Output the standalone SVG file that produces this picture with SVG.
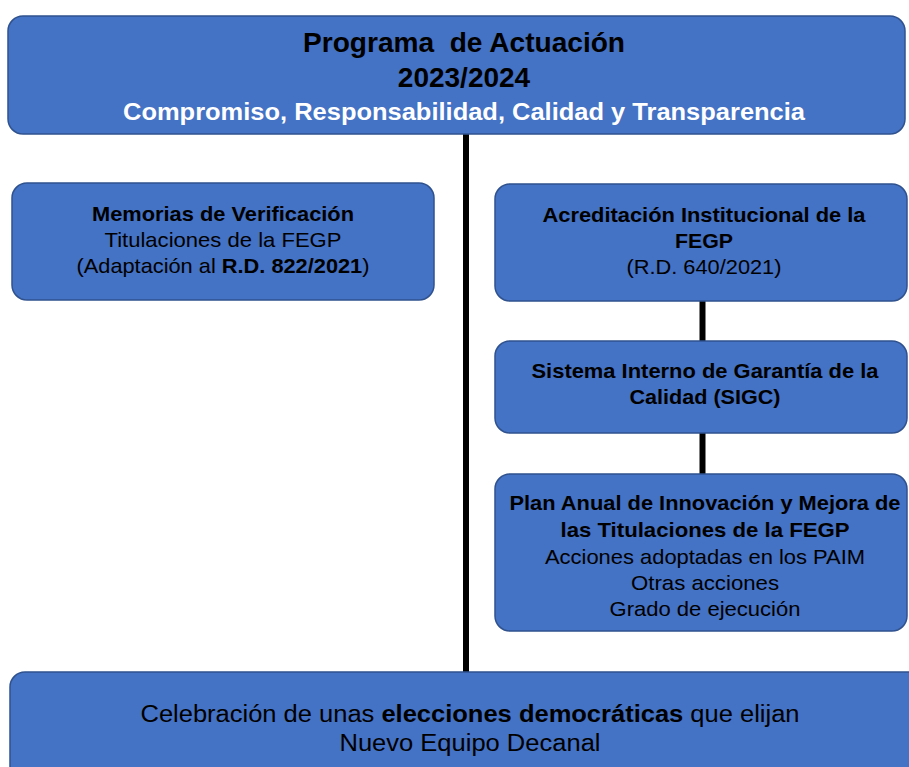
<svg xmlns="http://www.w3.org/2000/svg" width="909" height="767" viewBox="0 0 909 767">
<style>
.box{fill:#4472C4;stroke:#2F528F;stroke-width:1.5}
.t{font-family:"Liberation Sans",Arial,sans-serif;fill:#000;text-anchor:middle}
.b{font-weight:bold}
.w{fill:#fff}
.link{stroke:#000;stroke-width:6;fill:none}
</style>
<rect width="909" height="767" fill="#fff"/>
<g id="connectors">
<line class="link" x1="466" y1="134" x2="466" y2="672"/>
<line class="link" x1="702.5" y1="301" x2="702.5" y2="341"/>
<line class="link" x1="702.5" y1="433" x2="702.5" y2="474"/>
</g>
<g id="programa">
<rect class="box" x="8" y="16" width="897" height="118" rx="15"/>
<text class="t b" x="464" y="52" font-size="28" textLength="322" lengthAdjust="spacingAndGlyphs">Programa&#160; de Actuación</text>
<text class="t b" x="464" y="87" font-size="28">2023/2024</text>
<text class="t b w" x="464" y="120" font-size="24" textLength="682" lengthAdjust="spacingAndGlyphs">Compromiso, Responsabilidad, Calidad y Transparencia</text>
</g>
<g id="memorias">
<rect class="box" x="12" y="183" width="422" height="117" rx="15"/>
<text class="t b" x="223" y="221" font-size="20.5" textLength="262" lengthAdjust="spacingAndGlyphs">Memorias de Verificación</text>
<text class="t" x="223" y="247" font-size="21" textLength="237" lengthAdjust="spacingAndGlyphs">Titulaciones de la FEGP</text>
<text class="t" x="223" y="273" font-size="21" textLength="293" lengthAdjust="spacingAndGlyphs">(Adaptación al <tspan class="b">R.D. 822/2021</tspan>)</text>
</g>
<g id="acreditacion">
<rect class="box" x="495" y="184" width="412" height="117" rx="15"/>
<text class="t b" x="704" y="222" font-size="20.5" textLength="323" lengthAdjust="spacingAndGlyphs">Acreditación Institucional de la</text>
<text class="t b" x="704" y="248" font-size="20.5" textLength="58" lengthAdjust="spacingAndGlyphs">FEGP</text>
<text class="t" x="704" y="274" font-size="21" textLength="155" lengthAdjust="spacingAndGlyphs">(R.D. 640/2021)</text>
</g>
<g id="sigc">
<rect class="box" x="495" y="341" width="412" height="92" rx="15"/>
<text class="t b" x="705" y="378" font-size="20.5" textLength="347" lengthAdjust="spacingAndGlyphs">Sistema Interno de Garantía de la</text>
<text class="t b" x="705" y="404" font-size="20.5" textLength="151" lengthAdjust="spacingAndGlyphs">Calidad (SIGC)</text>
</g>
<g id="plan">
<rect class="box" x="495" y="474" width="412" height="157" rx="15"/>
<text class="t b" x="705" y="510" font-size="20.5" textLength="391" lengthAdjust="spacingAndGlyphs">Plan Anual de Innovación y Mejora de</text>
<text class="t b" x="705" y="537" font-size="20.5" textLength="289" lengthAdjust="spacingAndGlyphs">las Titulaciones de la FEGP</text>
<text class="t" x="705" y="564" font-size="21" textLength="320" lengthAdjust="spacingAndGlyphs">Acciones adoptadas en los PAIM</text>
<text class="t" x="705" y="590" font-size="21" textLength="148" lengthAdjust="spacingAndGlyphs">Otras acciones</text>
<text class="t" x="705" y="616" font-size="21" textLength="191" lengthAdjust="spacingAndGlyphs">Grado de ejecución</text>
</g>
<g id="elecciones">
<rect class="box" x="10" y="672" width="920" height="120" rx="15"/>
<text class="t" x="470" y="722" font-size="23" textLength="659" lengthAdjust="spacingAndGlyphs">Celebración de unas <tspan class="b">elecciones democráticas</tspan> que elijan</text>
<text class="t" x="470" y="751" font-size="23" textLength="261" lengthAdjust="spacingAndGlyphs">Nuevo Equipo Decanal</text>
</g>
</svg>
